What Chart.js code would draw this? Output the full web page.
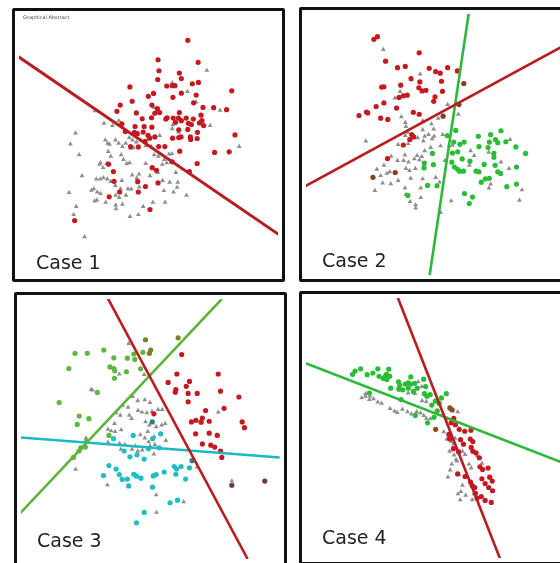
<!DOCTYPE html>
<html>
<head>
<meta charset="utf-8">
<script src="https://cdn.jsdelivr.net/npm/chart.js@4.4.0/dist/chart.umd.min.js"></script>
<style>
body{margin:0;width:560px;height:563px;overflow:hidden;background:#fff;position:relative;font-family:"DejaVu Sans",sans-serif}
.panel{position:absolute;width:273px;height:274px;box-sizing:border-box;border:3px solid #111;border-radius:2px;overflow:hidden;background:#fff}
.panel canvas{position:absolute;left:0;top:0}
.case{position:absolute;font-size:19px;line-height:19px;color:#222;white-space:nowrap}
.ga{position:absolute;left:23px;top:15px;font-size:5px;line-height:5px;color:#444;white-space:nowrap}
</style>
</head>
<body>
<div class="panel" style="left:12px;top:8px"><canvas id="c1" width="267" height="268"></canvas></div>
<div class="panel" style="left:299px;top:7px;height:275px"><canvas id="c2" width="267" height="269"></canvas></div>
<div class="panel" style="left:14px;top:292px"><canvas id="c3" width="267" height="268"></canvas></div>
<div class="panel" style="left:299px;top:291px"><canvas id="c4" width="267" height="268"></canvas></div>
<div class="ga">Graphical Abstract</div>
<div class="case" style="left:36px;top:253px">Case 1</div>
<div class="case" style="left:322px;top:251px">Case 2</div>
<div class="case" style="left:37px;top:531px">Case 3</div>
<div class="case" style="left:322px;top:528px">Case 4</div>
<script>
// Case 1
var case1Red = [[568,112],[476,172],[600,180],[479,206],[542,213],[548,230],[475,233],[503,253],[520,252],[528,252],[582,246],[601,242],
  [389,256],[548,275],[594,281],[704,268],[446,285],[462,276],[396,300],[359,312],[349,331],[457,312],[522,288],[586,305],[615,319],
  [648,320],[688,326],[474,323],[466,337],[481,335],[409,336],[504,351],[523,352],[542,335],[539,352],[563,352],[585,355],[609,343],
  [612,360],[427,354],[456,351],[500,355],[364,370],[405,378],[433,378],[457,380],[530,365],[548,360],[570,368],[579,372],[604,367],
  [617,375],[540,388],[568,387],[598,396],[375,393],[403,396],[412,400],[430,395],[445,405],[521,414],[540,412],[547,410],[576,410],
  [597,415],[577,418],[714,404],[391,440],[415,441],[436,424],[450,414],[466,410],[478,440],[497,440],[543,454],[651,458],[696,456],
  [520,487],[597,492],[323,494],[458,505],[471,513],[338,517],[340,547],[413,548],[437,563],[476,552],[357,580],[415,580],[325,595],
  [451,634],[218,668],[573,517]]
var case1Grey = [[627,205],[567,270],[520,243],[594,303],[464,320],[470,330],[668,328],[637,375],[727,440],[281,330],[309,368],[355,360],
  [335,375],[221,398],[205,432],[232,465],[313,420],[320,430],[326,433],[344,420],[354,430],[366,440],[376,430],[387,412],[397,420],
  [409,426],[422,420],[438,438],[455,440],[481,406],[522,373],[520,385],[540,396],[400,444],[391,445],[322,455],[362,465],[369,480],
  [379,492],[330,470],[295,495],[298,490],[306,505],[317,492],[388,490],[438,492],[464,465],[477,470],[489,495],[495,480],[510,463],
  [519,462],[503,490],[516,488],[531,520],[475,520],[241,530],[285,540],[297,540],[307,536],[319,540],[330,548],[344,560],[364,545],
  [396,528],[410,537],[417,525],[451,530],[490,545],[512,550],[537,550],[535,566],[270,575],[277,570],[288,580],[298,585],[360,570],
  [383,570],[393,571],[418,565],[201,582],[280,608],[287,605],[314,612],[345,590],[356,597],[377,590],[430,625],[460,612],[498,612],
  [564,590],[524,580],[494,576],[345,620],[346,632],[366,618],[389,656],[415,650],[223,625],[215,650],[249,718]]
var case1Line = [[40,160],[852,713]]

// Case 2
var case2Red = [[247,110],[258,102],[387,152],[283,178],[320,198],[344,194],[418,200],[438,210],[452,215],[475,198],[505,208],[362,232],
  [389,242],[456,240],[271,258],[278,257],[330,252],[386,260],[396,270],[408,268],[459,271],[325,290],[338,285],[350,283],[436,288],
  [278,307],[254,318],[317,323],[432,302],[224,335],[228,338],[201,346],[369,336],[387,342],[268,354],[290,358],[364,405],[370,412],
  [358,420],[338,437],[289,479]]
var case2Mixed = [[525,247],[510,312],[461,348],[244,537],[313,522]]
var case2Green = [[500,392],[474,408],[570,410],[608,405],[640,393],[623,420],[655,427],[630,430],[604,428],[572,442],[600,445],
  [494,428],[513,435],[526,428],[686,443],[716,463],[428,463],[490,462],[506,458],[618,463],[618,475],[520,480],[544,487],[488,490],
  [403,493],[431,498],[402,508],[622,500],[588,497],[496,505],[506,512],[524,518],[512,518],[563,518],[572,520],[630,520],[639,525],
  [688,505],[604,540],[592,542],[579,552],[413,562],[442,563],[658,566],[688,558],[527,587],[552,598],[542,618],[352,593]]
var case2Grey = [[276,142],[390,218],[328,272],[312,292],[475,312],[508,342],[332,350],[446,355],[344,368],[346,380],[398,362],[425,372],
  [432,388],[398,390],[404,410],[416,405],[433,410],[460,405],[473,410],[382,415],[352,398],[344,408],[322,436],[222,425],[353,433],
  [400,425],[427,418],[453,440],[480,440],[423,445],[404,455],[381,470],[372,480],[388,483],[395,473],[343,468],[339,485],[354,490],
  [300,472],[320,485],[278,500],[256,512],[402,500],[375,510],[346,510],[357,516],[296,520],[268,532],[287,525],[361,540],[398,542],
  [438,538],[450,552],[274,555],[299,557],[322,547],[250,578],[343,570],[392,570],[346,590],[359,612],[376,622],[392,600],[376,632],
  [546,455],[557,470],[467,485],[490,438],[542,500],[602,460],[640,490],[665,510],[603,570],[608,558],[705,576],[697,608],[486,610],
  [453,646],[668,420]]
var case2LineRed = [[33,565],[840,127]]
var case2LineGreen = [[541,25],[419,842]]

// Case 3
var case3Green = [[218,198],[256,198],[307,188],[338,212],[380,213],[400,200],[403,217],[428,195],[326,240],[338,245],[341,252],
  [377,255],[421,246],[199,245],[340,275],[287,319],[169,350],[231,392],[261,400],[225,418],[254,470],[250,488],[236,490],[230,500],
  [213,520],[323,452]]
var case3Mixed = [[436,156],[452,188],[448,198],[537,150]]
var case3Red = [[548,202],[533,262],[572,285],[506,288],[530,310],[528,318],[562,300],[568,322],[596,322],[568,348],[661,262],[668,315],
  [725,333],[679,368],[622,375],[612,398],[578,410],[592,405],[608,411],[633,408],[735,410],[742,428],[591,447],[633,445],[658,452],
  [612,478],[638,482],[650,488],[668,500],[672,520],[462,385]]
var case3Dark = [[703,606],[805,593]]
var case3Cyan = [[398,452],[483,447],[458,462],[370,500],[388,518],[410,512],[432,525],[445,493],[478,490],[323,545],[345,556],[355,573],
  [364,588],[380,587],[400,572],[408,578],[422,584],[306,576],[384,608],[460,577],[469,573],[494,565],[525,548],[532,556],[546,548],
  [572,552],[530,572],[560,587],[458,612],[512,660],[535,652],[432,690],[408,722],[337,462]]
var case3Teal = [[457,410],[580,530]]
var case3Grey = [[384,168],[432,264],[355,262],[268,310],[272,312],[396,332],[412,345],[434,342],[450,350],[365,360],[382,365],[413,375],
  [425,380],[440,382],[456,378],[475,372],[488,372],[345,382],[358,390],[386,390],[393,400],[340,415],[320,433],[330,438],[342,440],
  [361,435],[436,410],[448,420],[443,440],[469,425],[486,420],[497,415],[434,460],[446,472],[463,456],[420,450],[356,477],[372,480],
  [394,495],[405,485],[450,485],[465,480],[426,497],[412,500],[462,510],[360,495],[252,460],[320,473],[220,557],[318,605],[469,636],
  [470,690],[554,657],[661,380],[657,450],[596,550],[703,593],[499,468]]
var case3LineRed = [[318,25],[752,834]]
var case3LineGreen = [[672,30],[48,693]]
var case3LineCyan = [[48,458],[851,520]]

// Case 4
var case4Green = [[180,262],[188,252],[205,245],[225,263],[243,258],[258,245],[262,268],[275,275],[285,262],[292,246],[295,268],[280,270],
  [286,278],[322,285],[326,295],[343,292],[352,288],[360,292],[372,290],[380,305],[298,305],[323,308],[335,310],[352,305],[368,315],
  [400,277],[406,300],[402,322],[410,330],[420,325],[470,322],[455,335],[448,352],[436,345],[442,375],[425,357],[432,395],[412,412],
  [374,389],[330,340],[232,320],[360,270]]
var case4Mixed = [[481,366],[488,372],[437,432]]
var case4Grey = [[208,335],[220,330],[232,340],[245,338],[258,348],[270,352],[220,322],[234,330],[296,368],[310,376],[318,380],[334,370],
  [350,378],[362,385],[378,378],[390,382],[400,390],[408,398],[420,400],[383,285],[394,300],[373,322],[395,344],[408,346],[352,320],
  [460,385],[474,400],[505,378],[462,440],[472,462],[486,470],[497,460],[492,478],[480,500],[494,512],[500,526],[487,540],[503,530],
  [520,500],[528,510],[540,540],[547,552],[573,520],[566,515],[580,537],[482,558],[475,580],[509,572],[515,625],[506,632],[513,650],
  [530,636],[550,650],[555,632],[520,605]]
var case4Red = [[493,398],[485,412],[498,418],[510,432],[527,438],[546,435],[478,448],[480,462],[492,492],[508,502],[523,478],[514,464],
  [544,462],[552,470],[547,488],[552,500],[562,505],[572,520],[574,548],[582,556],[599,552],[604,580],[505,570],[528,578],[545,595],
  [550,606],[580,585],[590,600],[612,592],[601,612],[613,622],[560,630],[565,645],[590,652],[609,658],[558,612],[578,640]]
var case4LineRed = [[320,25],[636,832]]
var case4LineGreen = [[35,228],[840,539]]

function pts(arr) {
  return arr.map(function (p) { return { x: p[0], y: p[1] } })
}

function dots(arr, color) {
  return { data: pts(arr), backgroundColor: color, borderWidth: 0, pointRadius: 2.6, pointStyle: 'circle', order: 2 }
}

function tris(arr) {
  return { data: pts(arr), backgroundColor: '#8e8e8e', borderWidth: 0, pointRadius: 2.8, pointStyle: 'triangle', order: 3 }
}

function line(arr, color, w) {
  return { data: pts(arr), showLine: true, borderColor: color, borderWidth: w, pointRadius: 0, order: 1 }
}

function makePanel(id, xr, yr, datasets) {
  return new Chart(document.getElementById(id), {
    type: 'scatter',
    data: { datasets: datasets },
    options: {
      responsive: false,
      animation: false,
      layout: { padding: 0 },
      plugins: { legend: { display: false }, tooltip: { enabled: false } },
      scales: {
        x: { type: 'linear', display: false, min: xr[0], max: xr[1] },
        y: { type: 'linear', display: false, min: yr[0], max: yr[1], reverse: true }
      }
    }
  })
}

var red = '#c5181f'
var lineRed = '#b81d20'

makePanel('c1', [46, 847], [34, 836], [
  line(case1Line, lineRed, 3),
  dots(case1Red, red),
  tris(case1Grey)
])

makePanel('c2', [37, 838], [32, 839], [
  line(case2LineRed, lineRed, 2.6),
  line(case2LineGreen, '#2cb83a', 2.6),
  dots(case2Red, red),
  dots(case2Mixed, '#8a3d1c'),
  dots(case2Green, '#27bd35'),
  tris(case2Grey)
])

makePanel('c3', [51, 852], [30, 834], [
  line(case3LineRed, lineRed, 2.6),
  line(case3LineGreen, '#5db43a', 2.6),
  line(case3LineCyan, '#1bbac2', 2.6),
  dots(case3Green, '#5db83b'),
  dots(case3Mixed, '#7d7d2a'),
  dots(case3Red, red),
  dots(case3Dark, '#6b3a3a'),
  dots(case3Cyan, '#1dbec4'),
  dots(case3Teal, '#2a7f86'),
  tris(case3Grey)
])

makePanel('c4', [36, 837], [26, 830], [
  line(case4LineRed, lineRed, 2.6),
  line(case4LineGreen, '#2cb83a', 2.6),
  dots(case4Green, '#27bd35'),
  dots(case4Mixed, '#8a4a22'),
  dots(case4Red, red),
  tris(case4Grey)
])
</script>
</body>
</html>
